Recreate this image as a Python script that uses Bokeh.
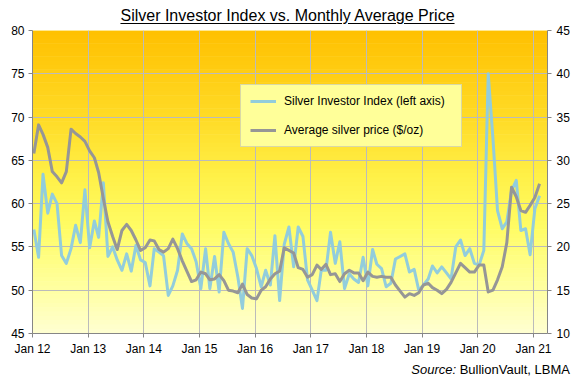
import pandas as pd
from datetime import datetime
from bokeh.plotting import figure
from bokeh.layouts import column
from bokeh.models import (Range1d, LinearAxis, FixedTicker, Legend, LegendItem,
                          BoxAnnotation, ColumnDataSource, Div)
from bokeh.embed import file_html
from bokeh.resources import INLINE

# ---------------- data ----------------
first_month = "2012-01-01"

investor_index = [
    57.0, 53.8, 63.4, 58.9, 61.1, 60.0, 54.0, 53.1, 54.8, 57.5, 55.5, 61.6,  # 2012
    54.9, 58.0, 56.1, 62.4, 53.9, 55.0, 53.5, 52.3, 54.2, 52.2, 55.2, 53.5,  # 2013
    53.2, 50.5, 54.8, 54.4, 54.0, 49.4, 50.5, 52.3, 56.5, 55.4, 54.8, 53.3,  # 2014
    50.2, 54.8, 50.2, 53.9, 49.8, 56.7, 55.4, 54.4, 51.5, 47.9, 54.8, 54.0,  # 2015
    52.5, 50.4, 52.3, 50.6, 56.3, 48.8, 55.3, 57.3, 52.7, 57.3, 56.2, 51.2,  # 2016
    50.0, 48.8, 52.3, 52.3, 56.7, 53.1, 55.6, 50.2, 51.9, 51.3, 50.9, 53.8,  # 2017
    50.5, 54.7, 53.0, 52.5, 50.4, 50.8, 53.6, 53.9, 54.2, 52.1, 52.4, 50.0,  # 2018
    50.6, 51.3, 52.8, 52.0, 52.7, 52.0, 51.3, 55.0, 55.8, 54.0, 54.8, 53.1,  # 2019
    52.9, 54.6, 75.0, 67.5, 59.2, 57.1, 57.9, 61.5, 62.7, 56.9, 57.1, 54.1,  # 2020
    59.4, 60.9,                                                              # 2021
]

silver_price = [
    30.8, 34.1, 33.0, 31.5, 28.7, 28.1, 27.4, 28.7, 33.6, 33.1, 32.7, 32.2,  # 2012
    31.1, 30.3, 28.6, 25.6, 22.9, 21.2, 19.7, 21.9, 22.6, 21.9, 20.8, 19.6,  # 2013
    19.9, 20.8, 20.7, 19.7, 19.4, 19.8, 20.9, 19.8, 18.4, 17.2, 16.0, 16.2,  # 2014
    17.1, 16.9, 16.2, 16.3, 16.8, 16.1, 15.0, 14.9, 14.7, 15.7, 14.5, 14.1,  # 2015
    14.0, 15.0, 15.4, 16.3, 16.9, 17.2, 19.9, 19.6, 19.3, 17.6, 17.4, 16.5,  # 2016
    16.8, 17.9, 17.4, 18.0, 16.8, 16.9, 16.0, 16.9, 17.3, 17.0, 17.0, 16.1,  # 2017
    17.1, 16.6, 16.5, 16.6, 16.5, 16.5, 15.6, 14.9, 14.2, 14.6, 14.4, 14.7,  # 2018
    15.6, 15.8, 15.3, 15.0, 14.6, 15.1, 15.9, 17.0, 18.1, 17.6, 17.1, 17.1,  # 2019
    17.9, 17.9, 14.8, 15.0, 16.2, 17.7, 20.5, 26.9, 25.8, 24.2, 24.0, 24.8,  # 2020
    25.7, 27.3,                                                              # 2021
]

year_tick_dates = [f"{y}-01-01" for y in range(2012, 2022)]
year_tick_labels = ["Jan 12", "Jan 13", "Jan 14", "Jan 15", "Jan 16",
                    "Jan 17", "Jan 18", "Jan 19", "Jan 20", "Jan 21"]
left_ticks = [45, 50, 55, 60, 65, 70, 75, 80]
right_ticks = [10, 15, 20, 25, 30, 35, 40, 45]

title_text = "Silver Investor Index vs. Monthly Average Price"
legend_labels = ["Silver Investor Index (left axis)", "Average silver price ($/oz)"]
source_italic = "Source:"
source_rest = "BullionVault, LBMA"

# ---------------- figure ----------------
dates = pd.date_range(first_month, periods=len(investor_index), freq="MS") + pd.Timedelta(days=9)
src = ColumnDataSource(dict(date=dates, index=investor_index, price=silver_price))

FONT = "Liberation Sans"
AXIS_GREY = "#868686"
GRID_GREY = "#BBBBBB"

p = figure(width=575, height=337, output_backend="svg", toolbar_location=None,
           x_axis_type="datetime",
           x_range=Range1d(datetime(2012, 1, 1), datetime(2021, 4, 3)),
           y_range=Range1d(left_ticks[0], left_ticks[-1]),
           min_border_left=32, min_border_right=28, min_border_top=5, min_border_bottom=29,
           background_fill_color="#FFFFD2", border_fill_color="white",
           outline_line_color=None, margin=0)
p.extra_y_ranges = {"price": Range1d(right_ticks[0], right_ticks[-1])}

# gradient background (style only)
def grad_color(t):
    stops = [(0.0, (255, 192, 0)), (0.3, (255, 220, 40)), (0.5, (255, 242, 75)),
             (0.65, (255, 252, 100)), (0.85, (255, 255, 160)), (1.0, (255, 255, 210))]
    for (t0, c0), (t1, c1) in zip(stops[:-1], stops[1:]):
        if t0 <= t <= t1:
            f = (t - t0) / (t1 - t0)
            return "#%02x%02x%02x" % tuple(int(round(a + (b - a) * f)) for a, b in zip(c0, c1))
    return "#%02x%02x%02x" % stops[-1][1]

nb = 70
lo, hi = left_ticks[0], left_ticks[-1]
step = (hi - lo) / nb
for i in range(nb):
    top = hi - i * step
    bot = top - step
    p.add_layout(BoxAnnotation(top=top + 0.03, bottom=bot - 0.03,
                               fill_color=grad_color((i + 0.5) / nb), fill_alpha=1,
                               line_color=None, level="image"))

# axes
tick_ms = [int(pd.Timestamp(d).value // 10**6) for d in year_tick_dates]
xticker = FixedTicker(ticks=tick_ms)
p.xaxis.ticker = xticker
p.xaxis.major_label_overrides = {t: l for t, l in zip(tick_ms, year_tick_labels)}
p.yaxis.ticker = FixedTicker(ticks=left_ticks)

raxis = LinearAxis(y_range_name="price", ticker=FixedTicker(ticks=right_ticks))
p.add_layout(raxis, "right")

for ax, so in [(p.xaxis[0], 4), (p.yaxis[0], 4), (raxis, 5)]:
    ax.axis_line_color = AXIS_GREY
    ax.major_tick_line_color = AXIS_GREY
    ax.major_tick_out = 4
    ax.major_tick_in = 0
    ax.minor_tick_line_color = None
    ax.major_label_text_font = FONT
    ax.major_label_text_font_size = "12px"
    ax.major_label_text_color = "black"
    ax.major_label_standoff = so

p.xgrid.ticker = xticker
p.ygrid.ticker = FixedTicker(ticks=left_ticks)
p.grid.grid_line_color = GRID_GREY
p.grid.grid_line_width = 1

# series
r1 = p.line(x="date", y="index", source=src, line_color="#92CDDC", line_width=3,
            line_join="round")
r2 = p.line(x="date", y="price", source=src, y_range_name="price",
            line_color="#969696", line_width=3, line_join="round")

legend = Legend(items=[LegendItem(label=legend_labels[0], renderers=[r1]),
                       LegendItem(label=legend_labels[1], renderers=[r2])],
                location=(208, 186), orientation="vertical",
                background_fill_color="#FFFF99", background_fill_alpha=1,
                border_line_color="#B4B4B4", border_line_width=1,
                label_text_font=FONT, label_text_font_size="12px",
                label_text_color="black", glyph_width=26, glyph_height=14,
                label_height=14, label_width=168, label_standoff=8,
                spacing=15, padding=9, margin=0)
p.add_layout(legend)

# title (underlined) and source line
title_div = Div(
    text=('<div style="font-family: \'Liberation Sans\', Arial, sans-serif; font-size: 16px; '
          'line-height: 16px; padding-top: 8px; text-align: center; color: black; '
          'text-decoration: underline; text-underline-offset: 2px; width: 575px;">'
          + title_text + '</div>'),
    width=575, height=25, margin=0)

source_div = Div(
    text=('<div style="font-family: \'Liberation Sans\', Arial, sans-serif; font-size: 13px; '
          'line-height: 16px; padding-top: 0px; text-align: right; color: black; '
          'width: 570px;"><i>' + source_italic + '</i> ' + source_rest + '</div>'),
    width=575, height=19, margin=0)

layout = column(title_div, p, source_div, spacing=0)

open("out.html", "w").write(file_html(layout, INLINE))
